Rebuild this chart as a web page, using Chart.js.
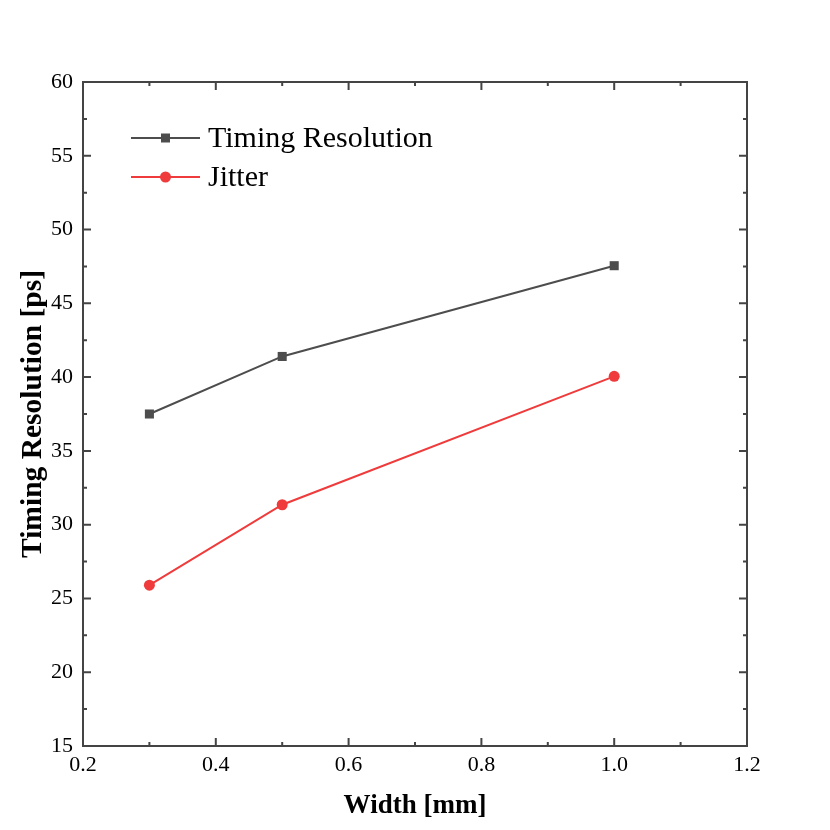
<!DOCTYPE html>
<html>
<head>
<meta charset="utf-8">
<script src="https://cdn.jsdelivr.net/npm/chart.js@4"></script>
<style>
  html, body { margin: 0; padding: 0; background: #fff; }
  #wrap { width: 830px; height: 830px; }
</style>
</head>
<body>
<div id="wrap"><canvas id="resChart" width="830" height="830"></canvas></div>
<script>
const widths = [0.3, 0.5, 1.0];
const timingRes = [37.5, 41.4, 47.55];
const jitter = [25.9, 31.35, 40.05];
const seriesNames = ["Timing Resolution", "Jitter"];
const xMin = 0.2, xMax = 1.2, xStep = 0.2;
const yMin = 15, yMax = 60, yStep = 5;

const axisColor = "#444444";
const serif = "'Liberation Serif', 'Times New Roman', serif";

function toPoints(xs, ys) {
  return xs.map((x, i) => ({ x: x, y: ys[i] }));
}

// box around the plot, with inward major + minor ticks on all four sides
const frameTicks = {
  id: "frameTicks",
  afterDatasetsDraw(chart) {
    const { ctx, chartArea: a, scales } = chart;
    const xs = scales.x, ys = scales.y;
    ctx.save();
    ctx.strokeStyle = axisColor;
    ctx.lineWidth = 2;
    ctx.beginPath();
    xs.ticks.forEach((t, i) => {
      const p = xs.getPixelForValue(t.value);
      ctx.moveTo(p, a.bottom); ctx.lineTo(p, a.bottom - 8);
      ctx.moveTo(p, a.top); ctx.lineTo(p, a.top + 8);
      if (i < xs.ticks.length - 1) {
        const m = xs.getPixelForValue(t.value + xStep / 2);
        ctx.moveTo(m, a.bottom); ctx.lineTo(m, a.bottom - 4);
        ctx.moveTo(m, a.top); ctx.lineTo(m, a.top + 4);
      }
    });
    ys.ticks.forEach((t, i) => {
      const p = ys.getPixelForValue(t.value);
      ctx.moveTo(a.left, p); ctx.lineTo(a.left + 8, p);
      ctx.moveTo(a.right, p); ctx.lineTo(a.right - 8, p);
      if (i < ys.ticks.length - 1) {
        const m = ys.getPixelForValue(t.value + yStep / 2);
        ctx.moveTo(a.left, m); ctx.lineTo(a.left + 4, m);
        ctx.moveTo(a.right, m); ctx.lineTo(a.right - 4, m);
      }
    });
    ctx.stroke();
    ctx.strokeRect(a.left, a.top, a.right - a.left, a.bottom - a.top);
    ctx.restore();
  }
};

// legend drawn as line + marker + label, inside the plot at top left
const lineLegend = {
  id: "lineLegend",
  afterDraw(chart) {
    const { ctx, chartArea: a } = chart;
    ctx.save();
    ctx.font = "30px " + serif;
    ctx.textBaseline = "middle";
    chart.data.datasets.forEach((ds, i) => {
      const y = a.top + 56 + i * 39;
      const x0 = a.left + 48, x1 = a.left + 117, xm = (x0 + x1) / 2;
      ctx.strokeStyle = ds.borderColor;
      ctx.lineWidth = 2;
      ctx.beginPath();
      ctx.moveTo(x0, y); ctx.lineTo(x1, y);
      ctx.stroke();
      ctx.fillStyle = ds.backgroundColor;
      ctx.beginPath();
      if (ds.pointStyle === "rect") {
        ctx.rect(xm - 4.5, y - 4.5, 9, 9);
      } else {
        ctx.arc(xm, y, 5.5, 0, Math.PI * 2);
      }
      ctx.fill();
      ctx.fillStyle = "#000";
      ctx.fillText(ds.label, x1 + 8, y + 1);
    });
    ctx.restore();
  }
};

const resCtx = document.getElementById("resChart").getContext("2d");
const resChart = new Chart(resCtx, {
  type: "line",
  data: {
    datasets: [
      {
        label: seriesNames[0],
        data: toPoints(widths, timingRes),
        borderColor: "#4d4d4d",
        backgroundColor: "#4d4d4d",
        borderWidth: 2,
        pointStyle: "rect",
        pointRadius: 6.4,
        pointBorderWidth: 0,
      },
      {
        label: seriesNames[1],
        data: toPoints(widths, jitter),
        borderColor: "#ef3b3b",
        backgroundColor: "#ef3b3b",
        borderWidth: 2,
        pointStyle: "circle",
        pointRadius: 5.5,
        pointBorderWidth: 0,
      },
    ],
  },
  options: {
    responsive: false,
    animation: false,
    layout: { padding: { top: 82, right: 83, left: 0, bottom: 0 } },
    plugins: { legend: { display: false }, tooltip: { enabled: false } },
    scales: {
      x: {
        type: "linear",
        min: xMin,
        max: xMax,
        ticks: {
          stepSize: xStep,
          padding: 6,
          color: "#000",
          font: { family: serif, size: 22 },
          callback: (v) => v.toFixed(1),
        },
        grid: { display: false, drawTicks: false },
        border: { display: false },
        title: {
          display: true,
          text: "Width [mm]",
          color: "#000",
          font: { family: serif, size: 27, weight: "bold" },
          padding: { top: 0, bottom: 8 },
        },
        afterFit(scale) { scale.height = 84; },
      },
      y: {
        min: yMin,
        max: yMax,
        ticks: {
          stepSize: yStep,
          padding: 10,
          color: "#000",
          font: { family: serif, size: 22 },
        },
        grid: { display: false, drawTicks: false },
        border: { display: false },
        title: {
          display: true,
          text: "Timing Resolution [ps]",
          color: "#000",
          font: { family: serif, size: 29.5, weight: "bold" },
          padding: { top: 16, bottom: 0 },
        },
        afterFit(scale) { scale.width = 83; },
      },
    },
  },
  plugins: [frameTicks, lineLegend],
});
</script>
</body>
</html>
